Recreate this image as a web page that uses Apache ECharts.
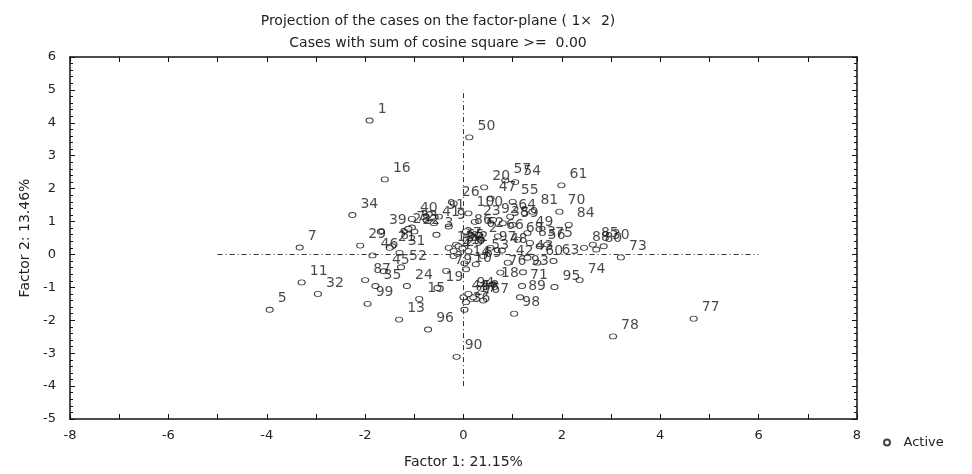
<!DOCTYPE html>
<html>
<head>
<meta charset="utf-8">
<script src="https://cdn.jsdelivr.net/npm/echarts@6/dist/echarts.min.js"></script>
<style>
  html, body { margin: 0; padding: 0; background: #fff; }
  #chart { width: 972px; height: 474px; }
</style>
</head>
<body>
<div id="chart"></div>
<script>
// case numbers and their coordinates on the factor plane
var caseIds = [1,2,3,4,5,6,7,8,9,10,11,12,13,14,15,16,17,18,19,20,
  21,22,23,24,25,26,27,28,29,30,31,32,33,34,35,36,37,38,39,40,
  41,42,43,44,45,46,47,48,49,50,51,52,53,54,55,56,57,58,59,60,
  61,62,63,64,65,66,67,68,69,70,71,72,73,74,75,76,77,78,79,80,
  81,82,83,84,85,86,87,88,89,90,91,92,93,94,95,96,97,98,99,100];
var factor1 = [-1.91,0.35,-0.55,-0.20,-3.94,0.10,-3.33,-1.45,-0.30,0.05,
  -3.29,-0.30,-1.31,0.02,-0.90,-1.60,0.15,0.60,-0.53,0.42,
  -1.50,-1.00,0.23,-1.15,-0.12,-0.20,0.05,-1.20,-2.10,2.85,
  -1.30,-2.96,-1.05,-2.26,-1.79,0.02,-0.15,0.80,-1.68,-1.05,
  -0.60,0.90,1.30,0.00,-1.62,-1.85,0.55,0.78,1.30,0.12,
  -0.20,-1.27,0.40,1.05,1.00,1.55,0.85,0.20,1.00,1.50,
  1.99,0.30,1.83,0.95,-0.10,0.70,0.40,1.10,0.25,1.95,
  1.19,-1.12,3.20,2.36,1.70,0.75,4.68,3.04,-0.35,2.70,
  1.40,-0.02,1.35,2.14,2.63,0.05,-2.00,2.45,1.15,-0.14,
  -0.50,0.60,1.21,0.10,1.85,-0.72,0.55,1.03,-1.95,0.10];
var factor2 = [4.07,0.45,0.60,-0.05,-1.68,0.10,0.21,0.25,0.85,-0.45,
  -0.85,0.20,-1.98,-0.27,-1.35,2.28,-1.35,-0.90,-1.02,2.04,
  0.20,0.70,0.99,-0.96,0.02,1.55,-1.45,0.72,0.27,0.25,
  0.05,-1.20,0.82,1.20,-0.96,-1.68,0.30,0.95,0.69,1.08,
  0.95,-0.25,-0.10,-1.30,-0.51,-0.03,1.70,0.12,0.65,3.56,
  0.10,-0.39,-0.05,2.20,1.60,0.25,2.25,-1.30,0.90,-0.25,
  2.10,0.60,-0.20,1.15,0.25,0.55,-1.40,0.45,-0.30,1.30,
  -0.96,0.78,-0.09,-0.78,0.30,-0.55,-1.95,-2.49,-0.50,0.15,
  1.30,0.18,0.35,0.90,0.30,0.70,-0.78,0.20,-1.30,-3.11,
  1.15,1.05,-0.54,-1.20,-0.99,-2.28,0.20,-1.80,-1.50,1.25];

// dotted reference lines through the origin
var hLine = [[-5, 0], [6, 0]];
var vLine = [[0, -4], [0, 5]];

var xTicks = { min: -8, max: 8, step: 2 };
var yTicks = { min: -5, max: 6, step: 1 };

var points = caseIds.map(function (id, i) {
  return [factor1[i], factor2[i], id];
});

var FONT = 'DejaVu Sans';
var chart = echarts.init(document.getElementById('chart'));

var tickStyle = { show: true, inside: true, length: 5, lineStyle: { color: '#111' } };

chart.setOption({
  backgroundColor: '#fff',
  animation: false,
  title: [
    {
      text: 'Projection of the cases on the factor-plane ( 1\u00d7  2)',
      left: 433, top: 9, textAlign: 'center',
      textStyle: { fontFamily: FONT, fontSize: 14, fontWeight: 'normal', color: '#222' }
    },
    {
      text: 'Cases with sum of cosine square >=  0.00',
      left: 433, top: 31, textAlign: 'center',
      textStyle: { fontFamily: FONT, fontSize: 14, fontWeight: 'normal', color: '#222' }
    }
  ],
  legend: {
    data: ['Active'],
    left: 878, top: 431,
    icon: 'circle', itemWidth: 7, itemHeight: 6, itemGap: 10,
    textStyle: { fontFamily: FONT, fontSize: 13, color: '#222', padding: [0, 0, 0, 8] }
  },
  grid: { left: 70, right: 115, top: 57, bottom: 50, show: false },
  xAxis: [
    {
      type: 'value', min: xTicks.min, max: xTicks.max, interval: xTicks.step,
      name: 'Factor 1: 21.15%', nameLocation: 'middle', nameGap: 36,
      nameTextStyle: { fontFamily: FONT, fontSize: 14, color: '#222' },
      axisLine: { onZero: false, lineStyle: { color: '#111', width: 1.5 } },
      axisTick: tickStyle,
      minorTick: { show: true, splitNumber: 2, length: 5, lineStyle: { color: '#111' } },
      axisLabel: { fontFamily: FONT, fontSize: 13, color: '#222', margin: 10 },
      splitLine: { show: false }
    },
    {
      type: 'value', position: 'top', min: xTicks.min, max: xTicks.max, interval: xTicks.step,
      axisLine: { onZero: false, lineStyle: { color: '#111', width: 1.5 } },
      axisTick: tickStyle,
      minorTick: { show: true, splitNumber: 2, length: 5, lineStyle: { color: '#111' } },
      axisLabel: { show: false },
      splitLine: { show: false }
    }
  ],
  yAxis: [
    {
      type: 'value', min: yTicks.min, max: yTicks.max, interval: yTicks.step,
      name: 'Factor 2: 13.46%', nameLocation: 'middle', nameGap: 30,
      nameTextStyle: { fontFamily: FONT, fontSize: 14, color: '#222' },
      axisLine: { show: true, onZero: false, lineStyle: { color: '#111', width: 1.5 } },
      axisTick: tickStyle,
      minorTick: { show: true, splitNumber: 5, length: 3, lineStyle: { color: '#111' } },
      axisLabel: { fontFamily: FONT, fontSize: 13, color: '#222', margin: 14 },
      splitLine: { show: false }
    },
    {
      type: 'value', position: 'right', min: yTicks.min, max: yTicks.max, interval: yTicks.step,
      axisLine: { show: true, onZero: false, lineStyle: { color: '#111', width: 1.5 } },
      axisTick: tickStyle,
      minorTick: { show: true, splitNumber: 5, length: 3, lineStyle: { color: '#111' } },
      axisLabel: { show: false },
      splitLine: { show: false }
    }
  ],
  series: [
    {
      name: 'Active',
      type: 'scatter',
      data: points,
      symbol: 'circle',
      symbolSize: [7, 5],
      itemStyle: { color: '#fff', borderColor: '#111', borderWidth: 1 },
      label: {
        show: true,
        position: 'right',
        distance: 4,
        offset: [0, -11],
        formatter: function (p) { return p.data[2]; },
        fontFamily: FONT, fontSize: 14, color: '#1a1a1a'
      },
      markLine: {
        silent: true,
        symbol: 'none',
        label: { show: false },
        lineStyle: { color: '#333', width: 1, type: [5, 3, 1, 3] },
        data: [
          [{ coord: hLine[0] }, { coord: hLine[1] }],
          [{ coord: vLine[0] }, { coord: vLine[1] }]
        ]
      },
      z: 3
    }
  ]
});
</script>
</body>
</html>
